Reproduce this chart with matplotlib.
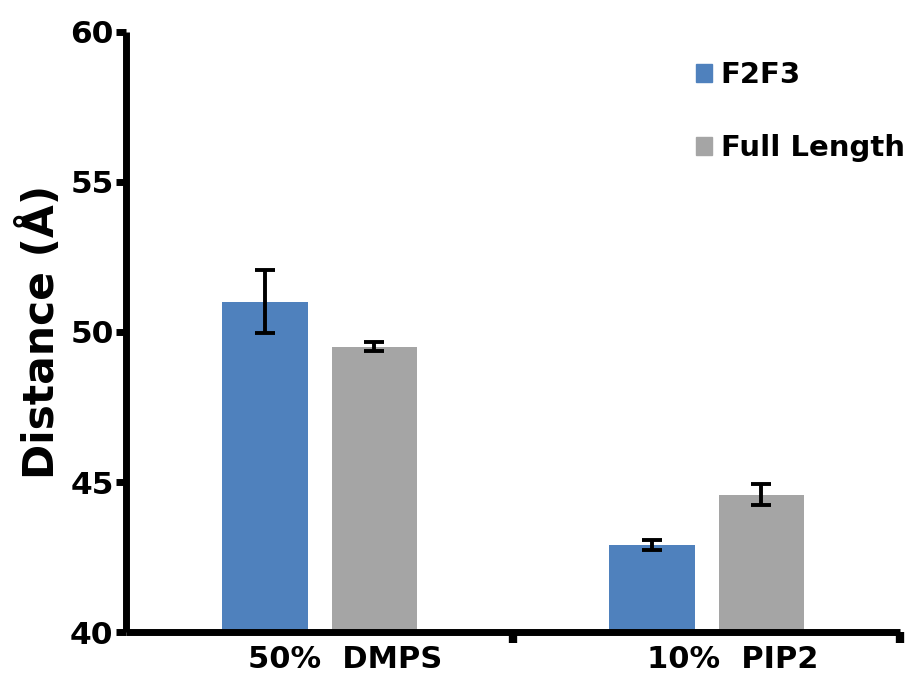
import numpy as np
import matplotlib.pyplot as plt
from matplotlib.patches import Patch

groups = ['50%  DMPS', '10%  PIP2']
series = ['F2F3', 'Full Length']
f2f3 = [51.0, 42.9]
f2f3_err = [1.05, 0.17]
full_length = [49.5, 44.57]
full_length_err = [0.15, 0.35]

blue = '#4f81bd'
grey = '#a5a5a5'

plt.rcParams['font.family'] = ['DejaVu Sans']
plt.rcParams['font.weight'] = 'bold'

fig = plt.figure(figsize=(9.14, 6.79), dpi=100)
ax = fig.add_axes([0.1379, 0.0692, 0.8468, 0.8837])

centers = np.arange(len(groups)) + 0.5
off = 0.142
w = 0.222
ekw = dict(ecolor='black', capsize=7, elinewidth=2.8, capthick=2.8)
ax.bar(centers - off, f2f3, w, color=blue, yerr=f2f3_err,
       error_kw=ekw, zorder=2)
ax.bar(centers + off, full_length, w, color=grey, yerr=full_length_err,
       error_kw=ekw, zorder=2)

ax.set_ylim(40, 60)
ax.set_xlim(0, len(groups))
ax.set_yticks([40, 45, 50, 55, 60])
ax.tick_params(axis='y', labelsize=22.5, width=5, length=7, direction='out', pad=2)

# group labels, tick marks at group boundaries
ax.set_xticks(centers + 0.067)
ax.set_xticklabels(groups, fontsize=22)
ax.tick_params(axis='x', which='major', length=0, pad=9)
ax.set_xticks([1, 2], minor=True)
ax.tick_params(axis='x', which='minor', length=8, width=6, direction='out')

for side in ['top', 'right']:
    ax.spines[side].set_visible(False)
for side in ['left', 'bottom']:
    ax.spines[side].set_linewidth(5)
    ax.spines[side].set_capstyle('butt')

ax.set_ylabel('Distance (Å)', fontsize=30.5, fontweight='bold', labelpad=5)

handles = [Patch(color=blue, label=series[0]), Patch(color=grey, label=series[1])]
ax.legend(handles=handles, loc='upper right', bbox_to_anchor=(1.04, 0.995),
          frameon=False, fontsize=21, handlelength=0.55, handleheight=0.55,
          handletextpad=0.3, labelspacing=1.55)

fig.savefig('out.png', dpi=100)
